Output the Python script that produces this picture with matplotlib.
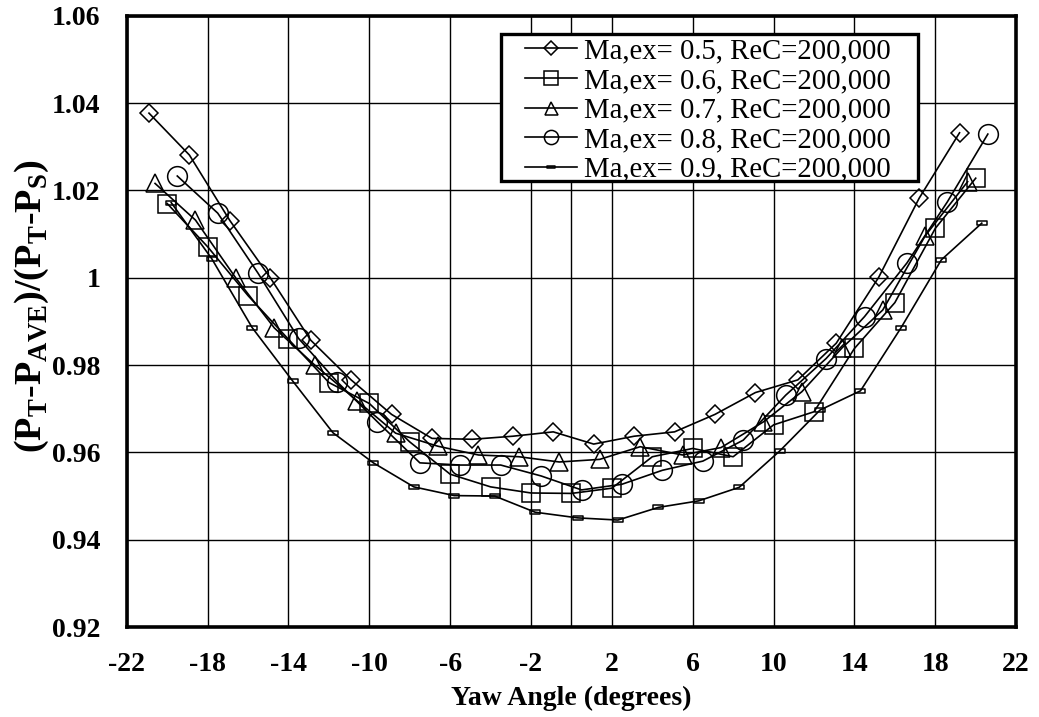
import numpy as np
import matplotlib
matplotlib.use("Agg")
import matplotlib.pyplot as plt
from matplotlib.path import Path
from matplotlib.patches import Rectangle
from matplotlib.ticker import FixedLocator, FuncFormatter

plt.rcParams['font.family'] = ['Liberation Serif', 'DejaVu Serif']
plt.rcParams['mathtext.fontset'] = 'custom'
plt.rcParams['mathtext.rm'] = 'Liberation Serif'
plt.rcParams['mathtext.bf'] = 'Liberation Serif:bold'
plt.rcParams['axes.unicode_minus'] = False

# data
yaw_05 = [-20.9, -18.9, -16.9, -14.9, -12.9, -10.9, -8.9, -6.9, -4.9, -2.9, -0.9,
          1.1, 3.1, 5.1, 7.1, 9.1, 11.2, 13.1, 15.2, 17.2, 19.2]
cp_05 = [1.0377, 1.0281, 1.0131, 1.0000, 0.9857, 0.9766, 0.9687, 0.9632, 0.9630, 0.9637, 0.9647,
         0.9619, 0.9637, 0.9647, 0.9687, 0.9737, 0.9766, 0.9850, 1.0001, 1.0182, 1.0332]

yaw_06 = [-20, -18, -16, -14, -12, -10, -8, -6, -4, -2, 0,
          2, 4, 6, 8, 10, 12, 14, 16, 18, 20]
cp_06 = [1.0170, 1.0071, 0.9959, 0.9859, 0.9760, 0.9712, 0.9624, 0.9550, 0.9521, 0.9507, 0.9506,
         0.9518, 0.9590, 0.9609, 0.9590, 0.9663, 0.9693, 0.9838, 0.9943, 1.0113, 1.0228]

yaw_07 = [-20.6, -18.6, -16.6, -14.7, -12.7, -10.6, -8.7, -6.6, -4.6, -2.6, -0.6,
          1.4, 3.4, 5.5, 7.4, 9.5, 11.4, 13.4, 15.4, 17.5, 19.6]
cp_07 = [1.0216, 1.0132, 0.9999, 0.9885, 0.9800, 0.9718, 0.9644, 0.9614, 0.9594, 0.9590, 0.9578,
         0.9584, 0.9613, 0.9594, 0.9611, 0.9670, 0.9739, 0.9840, 0.9926, 1.0096, 1.0220]

yaw_08 = [-19.5, -17.5, -15.5, -13.5, -11.6, -9.6, -7.5, -5.5, -3.5, -1.5, 0.5,
          2.5, 4.5, 6.5, 8.5, 10.6, 12.6, 14.5, 16.6, 18.6, 20.6]
cp_08 = [1.0233, 1.0148, 1.0010, 0.9861, 0.9762, 0.9670, 0.9576, 0.9571, 0.9571, 0.9546, 0.9514,
         0.9527, 0.9559, 0.9580, 0.9628, 0.9731, 0.9815, 0.9911, 1.0034, 1.0174, 1.0329]

yaw_09 = [-19.8, -17.8, -15.8, -13.8, -11.8, -9.8, -7.8, -5.8, -3.8, -1.8, 0.3,
          2.3, 4.3, 6.3, 8.3, 10.3, 12.3, 14.3, 16.3, 18.3, 20.3]
cp_09 = [1.0172, 1.0044, 0.9886, 0.9764, 0.9645, 0.9576, 0.9521, 0.9501, 0.9500, 0.9463, 0.9450,
         0.9445, 0.9474, 0.9489, 0.9520, 0.9603, 0.9697, 0.9741, 0.9885, 1.0041, 1.0125]

labels = ['Ma,ex= 0.5, ReC=200,000', 'Ma,ex= 0.6, ReC=200,000', 'Ma,ex= 0.7, ReC=200,000',
          'Ma,ex= 0.8, ReC=200,000', 'Ma,ex= 0.9, ReC=200,000']

x_ticks = list(range(-22, 23, 4))
y_ticks = [0.92, 0.94, 0.96, 0.98, 1.0, 1.02, 1.04, 1.06]

# small flat rectangle marker for the 0.9 series
dash = Path([(-1, -0.35), (1, -0.35), (1, 0.35), (-1, 0.35), (-1, -0.35)],
            [Path.MOVETO, Path.LINETO, Path.LINETO, Path.LINETO, Path.CLOSEPOLY])

series = [
    (yaw_05, cp_05, 'D', 9.6),
    (yaw_06, cp_06, 's', 13.3),
    (yaw_07, cp_07, '^', 13.0),
    (yaw_08, cp_08, 'o', 14.2),
    (yaw_09, cp_09, dash, 7.5),
]

fig, ax = plt.subplots(figsize=(10.39, 7.17), dpi=100)
fig.subplots_adjust(left=0.122, right=0.978, bottom=0.1255, top=0.978)

for (xs, ys, mk, ms), lab in zip(series, labels):
    ax.plot(xs, ys, color='black', lw=1.2, marker=mk, markersize=ms,
            markerfacecolor='none', markeredgecolor='black', markeredgewidth=1.1,
            label=lab, zorder=3)

ax.set_xlim(-22, 22)
ax.set_ylim(0.92, 1.06)
ax.xaxis.set_major_locator(FixedLocator(x_ticks))
ax.xaxis.set_minor_locator(FixedLocator([0]))
ax.yaxis.set_major_locator(FixedLocator(y_ticks))
ax.yaxis.set_major_formatter(FuncFormatter(lambda v, p: f'{round(v, 2):g}'))

ax.grid(True, which='both', color='black', lw=1.0)
ax.set_axisbelow(True)
for s in ax.spines.values():
    s.set_linewidth(2.6)
    s.set_zorder(6)

ax.tick_params(which='both', length=0)
ax.tick_params(axis='x', pad=18, labelsize=20)
ax.tick_params(axis='y', pad=19, labelsize=20)
for t in ax.get_xticklabels() + ax.get_yticklabels():
    t.set_fontweight('bold')

ax.set_xlabel('Yaw Angle (degrees)', fontsize=20, fontweight='bold', labelpad=6)
ax.set_ylabel(r'(P$_\mathbf{T}$-P$_\mathbf{AVE}$)/(P$_\mathbf{T}$-P$_\mathbf{S}$)',
              fontsize=27.5, fontweight='bold')
ax.yaxis.set_label_coords(-0.085, 0.525)

# legend box drawn separately: wide side padding, tight top/bottom
box = Rectangle((0.421, 0.729), 0.469, 0.242, transform=ax.transAxes,
                facecolor='white', edgecolor='black', lw=2.4, zorder=4)
ax.add_patch(box)
leg = ax.legend(loc='upper left', bbox_to_anchor=(0.448, 0.963), borderaxespad=0,
                fontsize=20.7, frameon=False, labelspacing=0.12, handlelength=1.8,
                handletextpad=0.25, borderpad=0, markerscale=0.72)
leg.set_zorder(5)

fig.savefig('out.png', dpi=100)
